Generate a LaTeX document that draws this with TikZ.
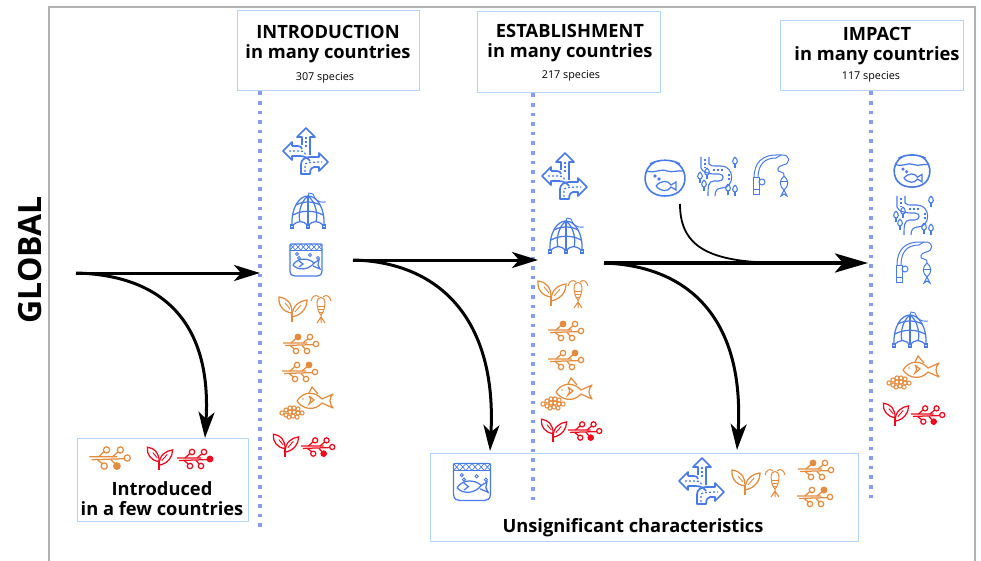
\documentclass[tikz,border=0pt]{standalone}
\usepackage{fontspec}
\setmainfont{Open Sans}
\usetikzlibrary{arrows.meta}
\definecolor{iconblue}{RGB}{72,122,232}
\definecolor{iconorange}{RGB}{228,140,62}
\definecolor{iconred}{RGB}{240,10,30}
\definecolor{boxblue}{RGB}{178,212,250}
\definecolor{dotblue}{RGB}{135,155,240}
\tikzset{
    blueicon/.style = {color=iconblue, line width=1.25pt},
    orangeicon/.style = {color=iconorange, line width=1.25pt},
    redicon/.style = {color=iconred, line width=1.25pt},
    framebox/.style = {draw=boxblue, line width=1.4pt, fill=white, anchor=north west},
    headtext/.style = {font={\fontsize{18.3}{20}\selectfont\bfseries}, align=center, inner sep=0pt},
    smalltext/.style = {font={\fontsize{10.8}{12}\selectfont}, inner sep=0pt},
    dotline/.style = {dotblue, line width=3.6pt, dash pattern=on 3.6pt off 6pt},
    flow/.style = {black, line width=3pt, -{Stealth[length=26pt, width=16pt, inset=7pt]}},
    pics/roads/.style = {code = {
        \begin{scope}[line width=1.7pt, line join=round]
        \draw (-4,-6) -- (-4,-14) -- (-9,-14) -- (0,-23) -- (9,-14) -- (4,-14) -- (4,4);
        \draw (-14,-5) -- (-14,-9) -- (-23,0) -- (-14,9) -- (-14,5) -- (-6,5)
            .. controls (-1,5) and (3,8) .. (4,10);
        \draw (-5,23) -- (-5,13) .. controls (-5,9) and (-1,6) .. (4,6) -- (13,6) -- (13,2)
            -- (22,11) -- (13,20) -- (13,16) -- (8,16) .. controls (6,16) and (4,18) .. (4,23) -- cycle;
        \draw (-14,-5) -- (-8,-5) .. controls (-6,-5) and (-4,-4) .. (-4,-2);
        \end{scope}
        \draw[dash pattern=on 2pt off 2pt] (0,-14) -- (0,-3);
        \draw[dash pattern=on 2pt off 2pt] (-17,0) -- (-6,0) .. controls (-2,0) and (0,2) .. (0,5);
        \draw[dash pattern=on 2pt off 2pt] (-1,21) -- (-1,14) .. controls (-1,12) and (2,11) .. (16,11);
    }},
    pics/fishnet/.style = {code = {
        \draw (-16,15) .. controls (-17,-3) and (-9,-15) .. (0,-15) .. controls (9,-15) and (17,-3) .. (16,15);
        \draw (0,-15) -- (0,15);
        \draw (0,-15) .. controls (-8,-9) and (-10,4) .. (-8,11);
        \draw (0,-15) .. controls (8,-9) and (10,4) .. (8,11);
        \draw (-12,-6) .. controls (-5,-10) and (5,-10) .. (12,-6);
        \draw (-15,4) .. controls (-6,-1) and (6,-1) .. (15,4);
        \draw (-16,15) .. controls (-10,9) and (-5,9) .. (0,15) .. controls (5,9) and (10,9) .. (16,15);
        \draw[line width=0.9pt] (0,-15) -- (1,-18) -- (5,-17) .. controls (7,-12) and (9,-8) .. (18,-9);
        \foreach \fx in {-16,0,16} {
            \draw (\fx-1.5,14) rectangle (\fx+1.5,17);
        }
    }},
    pics/tank/.style = {code = {
        \draw[rounded corners=1pt] (-16,-16) -- (16,-16) -- (16,10) .. controls (16,15) and (13,16) .. (10,16)
            -- (-10,16) .. controls (-13,16) and (-16,15) .. (-16,10) -- cycle;
        \draw[line width=0.8pt] (-16,-10) -- (16,-10);
        \foreach \hx in {-16,-10.7,-5.3,0,5.3,10.7} {
            \draw[line width=0.7pt] (\hx,-16) -- (\hx+5.3,-10) (\hx,-10) -- (\hx+5.3,-16);
        }
        \draw (-13,5) .. controls (-8,-3) and (3,-2) .. (8,3) .. controls (3,10) and (-8,11) .. (-13,5);
        \draw (8,3) -- (13,0) -- (12,5) -- (14,9) -- (7,6);
        \draw (-7,1) -- (-3,4) -- (-7,7);
        \foreach \bx/\by in {-9/-6,-7/-2,4/-5,12/-2} {
            \draw[line width=0.9pt] (\bx,\by) circle[radius=1.4];
        }
    }},
    pics/plant/.style = {code = {
        \draw (-1,13) -- (-1,3);
        \draw (-1,4) .. controls (-1,-6) and (-6,-11) .. (-14,-12) .. controls (-15,-4) and (-10,3) .. (-1,4);
        \draw (-1,8) .. controls (-1,-3) and (6,-8) .. (14,-9) .. controls (14,-1) and (9,6) .. (-1,8);
        \draw[line width=0.9pt] (-8,-6) -- (-3,0) (8,-4) -- (2,3);
    }},
    pics/copepod/.style = {code = {
        \begin{scope}[line width=1pt]
        \draw (-4,-7) .. controls (-4,-13) and (4,-13) .. (4,-7) .. controls (4,0) and (2,4) .. (0,6)
            .. controls (-2,4) and (-4,0) .. (-4,-7);
        \draw (-4,-3) -- (4,-3) (-3,0) -- (3,0) (-2,3) -- (2,3);
        \draw (-2,-12) .. controls (-5,-15) and (-9,-13) .. (-10,-8);
        \draw (2,-12) .. controls (5,-15) and (9,-13) .. (10,-8);
        \draw (0,6) -- (0,14) (0,8) -- (-4,14) (0,8) -- (4,14);
        \end{scope}
    }},
    pics/circuit/.style = {code = {
        \coordinate (tl) at (-3,-7);
        \coordinate (tr) at (9,-7);
        \coordinate (rt) at (15,0);
        \coordinate (bl) at (-5,7);
        \coordinate (br) at (6,7);
        \draw (-18,-1) -- (6,-1) (-16,1.5) -- (12.4,0.6);
        \draw (-10,-1) -- (-5.2,-5.5) (2,-1) -- (7,-5.2);
        \draw (-11,1.5) -- (-6.5,5) (1,1.5) -- (4.2,5);
        \foreach \cn in {tl,tr,rt,bl,br} {
            \draw (\cn) circle[radius=2.7];
        }
        \fill (#1) circle[radius=3.2];
    }},
    pics/fish/.style = {code = {
        \draw[line join=round] (-18,1) .. controls (-12,-9) and (0,-9) .. (7,-1) -- (18,-6)
            .. controls (14,-2) and (14,3) .. (18,8) -- (7,3) .. controls (0,11) and (-12,10) .. (-18,1);
        \draw (-6,-7) -- (-3,-13) -- (3,-6);
        \draw (-6,-4) -- (-1,0) -- (-6,4) .. controls (-4,1) and (-4,-1) .. (-6,-4);
        \fill (-12,-1) circle[radius=0.8];
    }},
    pics/eggs/.style = {code = {
        \foreach \ex/\ey in {-10/1,-6/-2,-2/-4,2/-4,6/-3,-6/3,-2/0,2/0,6/1,10/1,-3/5,1/4,5/5} {
            \draw[line width=1pt] (\ex,\ey) circle[radius=2.1];
        }
    }},
    pics/bowl/.style = {code = {
        \begin{scope}[line width=1.6pt]
        \draw (-10,-15) .. controls (-25,-8) and (-24,19) .. (0,19) .. controls (24,19) and (25,-8) .. (10,-15);
        \draw (-15,-13) .. controls (-6,-18) and (6,-18) .. (15,-13);
        \end{scope}
        \draw (-18,-6) .. controls (-10,-3) and (-5,-9) .. (2,-6) .. controls (8,-4) and (12,-7) .. (18,-6);
        \draw (-9,9) .. controls (-4,3) and (3,3) .. (6,8) -- (11,5) -- (11,13) -- (6,10)
            .. controls (3,15) and (-4,15) .. (-9,9);
        \draw (-10,-1) circle[radius=1] (-6,2) circle[radius=1];
    }},
    pics/river/.style = {code = {
        \begin{scope}[line width=1.1pt]
        \draw (-16,-20) -- (-16,-9) .. controls (-15,-5) and (-8,-3) .. (-3,-3) -- (2,-3)
            .. controls (8,-3) and (7,4) .. (2,4) -- (-3,4) .. controls (-9,4) and (-9,10) .. (-9,19);
        \draw (-8,-20) -- (-8,-13) .. controls (-7,-11) and (-4,-11) .. (0,-11) -- (4,-11)
            .. controls (18,-11) and (18,11) .. (5,11) .. controls (0,11) and (-2,14) .. (-2,19);
        \draw[dash pattern=on 2pt off 2pt] (-12,-18) -- (-12,-9) (-4,-7) -- (6,-7) (12,-3) -- (12,4);
        \foreach \tx/\ty in {18/-15,-17/0,-10/-4,-13/8,11/12,18/13} {
            \draw (\tx,\ty-5) .. controls (\tx+3.5,\ty-2) and (\tx+2.5,\ty+2) .. (\tx,\ty+2)
                .. controls (\tx-2.5,\ty+2) and (\tx-3.5,\ty-2) .. (\tx,\ty-5);
            \draw (\tx,\ty+2) -- (\tx,\ty+6);
        }
        \end{scope}
    }},
    pics/rod/.style = {code = {
        \begin{scope}[line width=1pt]
        \draw (-18,2) rectangle (-12,19);
        \draw (-18,14) -- (-12,14);
        \draw (-9,6) circle[radius=3];
        \draw (-17,2) .. controls (-17,-14) and (-8,-21) .. (5,-21) -- (10,-21);
        \draw (-13,2) .. controls (-13,-12) and (-6,-18) .. (5,-18) -- (10,-21);
        \draw (10,-21) .. controls (20,-22) and (20,-12) .. (12,-11) .. controls (6,-10) and (5,-4) .. (10,-4)
            .. controls (13,-4) and (13,-2) .. (13,0);
        \draw (13,0) .. controls (18,4) and (18,10) .. (13,14) .. controls (8,10) and (8,4) .. (13,0);
        \draw (13,14) -- (10,20) -- (13,18) -- (16,20) -- cycle;
        \draw (9.5,6) -- (16.5,6);
        \end{scope}
    }}
}
\begin{document}
\begin{tikzpicture}[x=1pt, y=-1pt]
    \useasboundingbox (0,0) rectangle (981,561);
    % frame
    \draw[gray!60, line width=1.6pt] (49,561) -- (49,7) -- (975,7) -- (975,561);

    % stage boxes
    \node[framebox, minimum width=182pt, minimum height=80pt] (introbox) at (237,10) {};
    \node[framebox, minimum width=183pt, minimum height=81pt] (estabbox) at (477,11) {};
    \node[framebox, minimum width=183pt, minimum height=70pt] (impactbox) at (780,20) {};
    \node[framebox, minimum width=171pt, minimum height=83pt] (fewbox) at (77,438) {};
    \node[framebox, minimum width=428pt, minimum height=88pt] (unsigbox) at (430,453) {};

    % dotted lines
    \draw[dotline] (introbox.south -| 260,0) -- (260,527);
    \draw[dotline] (estabbox.south -| 533,0) -- (533,500);
    \draw[dotline] (impactbox.south -| 871,0) -- (871,500);

    % texts
    \node[headtext] (introtitle) at (328,44) {INTRODUCTION\\in many countries};
    \node[smalltext] (introcount) at (325,77.5) {307 species};
    \node[headtext] (estabtitle) at (570,43) {ESTABLISHMENT\\in many countries};
    \node[smalltext] (estabcount) at (571,75.5) {217 species};
    \node[headtext] (impacttitle) at (877,46) {IMPACT\\in many countries};
    \node[smalltext] (impactcount) at (871,76.5) {117 species};
    \node[headtext] (fewtitle) at (162,499) {Introduced\\in a few countries};
    \node[headtext] (unsigtitle) at (633,528) {Unsignificant characteristics};
    \node[headtext, font={\fontsize{32}{34}\selectfont\bfseries}, rotate=90] (globaltitle) at (30,260) {GLOBAL};

    % arrows
    \coordinate (globalstart) at (76,273);
    \coordinate (introend) at (260,273);
    \coordinate (fewend) at (205,438);
    \coordinate (introstart) at (353,260);
    \coordinate (estabend) at (538,260);
    \coordinate (unsigendA) at (490,451);
    \coordinate (estabstart) at (604,263);
    \coordinate (impactend) at (868,263);
    \coordinate (unsigendB) at (737,450);
    \coordinate (petstart) at (680,204);
    \coordinate (petend) at (755,262);
    \draw[flow] (globalstart) -- (introend);
    \draw[flow] (globalstart) .. controls (160,275) and (212,320) .. (fewend);
    \draw[flow] (introstart) -- (estabend);
    \draw[flow] (introstart) .. controls (440,262) and (497,320) .. (unsigendA);
    \draw[flow, line width=4pt, -{Stealth[length=33pt, width=19pt, inset=8pt]}] (estabstart) -- (impactend);
    \draw[flow] (estabstart) .. controls (690,266) and (745,320) .. (unsigendB);
    \draw[black, line width=1.8pt] (petstart) .. controls (680,240) and (700,258) .. (petend);

    % icons of the first column
    \pic[blueicon] at (306,151) {roads};
    \pic[blueicon] at (308,211) {fishnet};
    \pic[blueicon] at (306,260) {tank};
    \pic[orangeicon] at (293,309) {plant};
    \pic[orangeicon] at (321,309) {copepod};
    \pic[orangeicon] at (301,344) {circuit=tl};
    \pic[orangeicon] at (300,372) {circuit=tr};
    \pic[orangeicon] at (315,400) {fish};
    \pic[orangeicon] at (292,412) {eggs};
    \pic[redicon, scale=0.9] at (286,445) {plant};
    \pic[redicon, scale=0.95] at (318,447) {circuit=br};

    % icons of the second column
    \pic[blueicon] at (565,176) {roads};
    \pic[blueicon] at (566,236) {fishnet};
    \pic[orangeicon] at (552,293) {plant};
    \pic[orangeicon] at (578,294) {copepod};
    \pic[orangeicon] at (566,331) {circuit=tl};
    \pic[orangeicon] at (566,360) {circuit=tr};
    \pic[orangeicon] at (574,391) {fish};
    \pic[orangeicon] at (553,403) {eggs};
    \pic[redicon, scale=0.9] at (554,430) {plant};
    \pic[redicon, scale=0.95] at (585,431) {circuit=br};

    % icons above the last arrow
    \pic[blueicon] at (665,177) {bowl};
    \pic[blueicon] at (717,177) {river};
    \pic[blueicon] at (771,176) {rod};

    % icons of the last column
    \pic[blueicon, scale=0.9] at (912,170) {bowl};
    \pic[blueicon] at (913,216) {river};
    \pic[blueicon] at (914,263) {rod};
    \pic[blueicon] at (910,330) {fishnet};
    \pic[orangeicon] at (921,369) {fish};
    \pic[orangeicon] at (899,382) {eggs};
    \pic[redicon, scale=0.9] at (896,414) {plant};
    \pic[redicon, scale=0.95] at (928,415) {circuit=br};

    % icons of the boxes
    \pic[orangeicon, scale=1.15] at (110,458) {circuit=br};
    \pic[redicon, scale=0.9] at (160,458) {plant};
    \pic[redicon] at (195,459) {circuit=rt};
    \pic[blueicon, scale=1.15] at (472,482) {tank};
    \pic[blueicon] at (702,481) {roads};
    \pic[orangeicon] at (746,482) {plant};
    \pic[orangeicon] at (775,483) {copepod};
    \pic[orangeicon] at (816,470) {circuit=tl};
    \pic[orangeicon] at (815,497) {circuit=tr};
\end{tikzpicture}
\end{document}
